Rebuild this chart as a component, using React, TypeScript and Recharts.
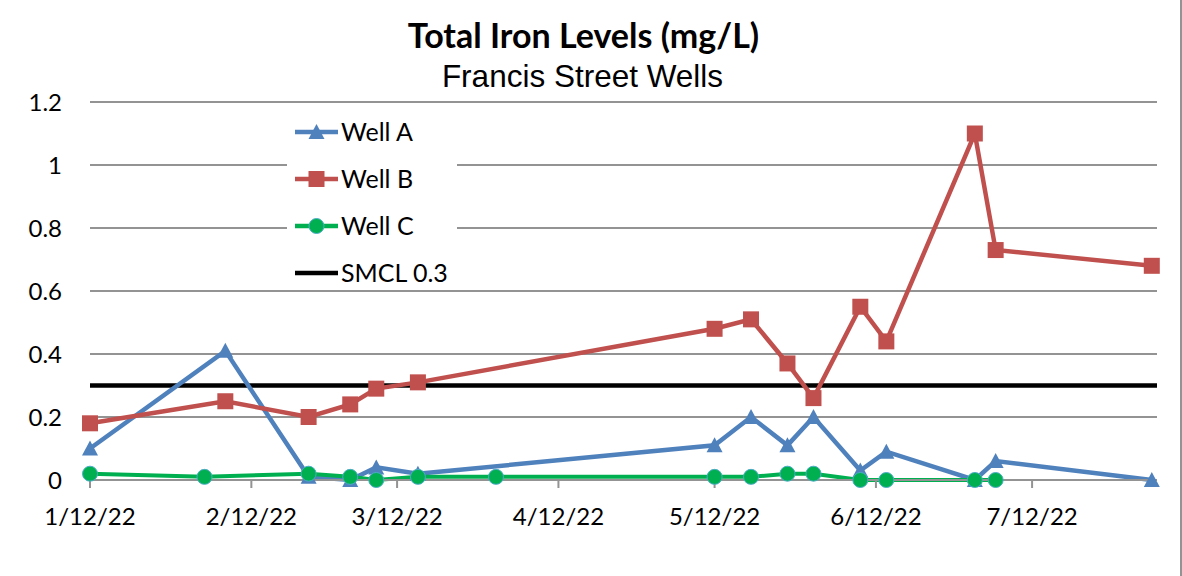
import { LineChart, Line, XAxis, YAxis, CartesianGrid, ReferenceLine, Legend } from 'recharts'

// sampling dates (Wells A and B share a schedule, Well C differs a little)
const datesAB = [
  '2022-01-12', '2022-02-07', '2022-02-23', '2022-03-03', '2022-03-08', '2022-03-16',
  '2022-05-12', '2022-05-19', '2022-05-26', '2022-05-31', '2022-06-09', '2022-06-14',
  '2022-07-01', '2022-07-05', '2022-08-04',
]
const wellA = [0.1, 0.41, 0.01, 0, 0.04, 0.02, 0.11, 0.2, 0.11, 0.2, 0.03, 0.09, 0, 0.06, 0]
const wellB = [0.18, 0.25, 0.2, 0.24, 0.29, 0.31, 0.48, 0.51, 0.37, 0.26, 0.55, 0.44, 1.1, 0.73, 0.68]

const datesC = [
  '2022-01-12', '2022-02-03', '2022-02-23', '2022-03-03', '2022-03-08', '2022-03-16',
  '2022-03-31', '2022-05-12', '2022-05-19', '2022-05-26', '2022-05-31', '2022-06-09',
  '2022-06-14', '2022-07-01', '2022-07-05',
]
const wellC = [0.02, 0.01, 0.02, 0.01, 0, 0.01, 0.01, 0.01, 0.01, 0.02, 0.02, 0, 0, 0, 0]

const smcl = 0.3

const xTickDates = ['2022-01-12', '2022-02-12', '2022-03-12', '2022-04-12', '2022-05-12', '2022-06-12', '2022-07-12']
const xDomainDates = ['2022-01-12', '2022-08-05']
const yTicks = [0, 0.2, 0.4, 0.6, 0.8, 1, 1.2]

const BLUE = '#4F81BD'
const RED = '#C0504D'
const GREEN = '#00B050'
const GRID = '#939393'
const FONT = 'Lato, "Open Sans", sans-serif'

const toTime = (s: string) => Date.parse(s + 'T00:00:00Z')
const fmtDate = (t: number) => {
  const d = new Date(t)
  return `${d.getUTCMonth() + 1}/${d.getUTCDate()}/${String(d.getUTCFullYear()).slice(2)}`
}

const dataA = datesAB.map((d, i) => ({ t: toTime(d), v: wellA[i] }))
const dataB = datesAB.map((d, i) => ({ t: toTime(d), v: wellB[i] }))
const dataC = datesC.map((d, i) => ({ t: toTime(d), v: wellC[i] }))

const triangle = (cx: number, cy: number, key?: any) => (
  <path key={key} d={`M${cx},${cy - 8} L${cx + 8},${cy + 7} L${cx - 8},${cy + 7} Z`} fill={BLUE} />
)
const square = (cx: number, cy: number, key?: any) => (
  <rect key={key} x={cx - 8} y={cy - 8} width={16} height={16} fill={RED} />
)
const circle = (cx: number, cy: number, key?: any) => (
  <circle key={key} cx={cx} cy={cy} r={7.5} fill={GREEN} stroke="#4BACC6" strokeWidth={1} />
)

const dotOf = (shape: (cx: number, cy: number, key?: any) => any) => (p: any) => {
  if (p.cx == null || p.cy == null) return <g key={p.index} />
  return shape(p.cx, p.cy, p.index)
}

const legendItems = [
  { name: 'Well A', color: BLUE, marker: triangle },
  { name: 'Well B', color: RED, marker: square },
  { name: 'Well C', color: GREEN, marker: circle },
  { name: 'SMCL 0.3', color: '#000000', marker: null },
]

function LegendBox() {
  return (
    <div style={{ background: '#fff', width: 170, height: 182, paddingTop: 2, boxSizing: 'border-box' }}>
      {legendItems.map((it) => (
        <div key={it.name} style={{ display: 'flex', alignItems: 'center', height: 47 }}>
          <svg width={54} height={20} style={{ flex: 'none' }}>
            <line x1={8} y1={10} x2={51} y2={10} stroke={it.color} strokeWidth={4.5} />
            {it.marker ? it.marker(29.5, 10) : null}
          </svg>
          <span style={{ fontFamily: FONT, fontSize: 25, color: '#000', lineHeight: '25px' }}>{it.name}</span>
        </div>
      ))}
    </div>
  )
}

export default function App() {
  return (
    <div
      style={{
        position: 'absolute',
        left: 0,
        top: 0,
        width: 1182,
        height: 576,
        background: '#fff',
        borderRight: `2px solid ${GRID}`,
        boxSizing: 'border-box',
      }}
    >
      <div
        style={{
          position: 'absolute',
          top: 12,
          left: 0,
          width: 1167,
          textAlign: 'center',
          fontFamily: FONT,
          fontWeight: 700,
          fontSize: 34,
          lineHeight: '46px',
          color: '#000',
        }}
      >
        Total Iron Levels (mg/L)
      </div>
      <div
        style={{
          position: 'absolute',
          top: 56,
          left: 0,
          width: 1165,
          textAlign: 'center',
          fontFamily: '"Liberation Sans", Arial, sans-serif',
          fontSize: 31.5,
          lineHeight: '40px',
          color: '#000',
        }}
      >
        Francis Street Wells
      </div>
      <LineChart width={1182} height={576} margin={{ top: 102, right: 25, bottom: 0, left: 0 }}>
        <CartesianGrid vertical={false} stroke={GRID} strokeWidth={2} />
        <XAxis
          type="number"
          dataKey="t"
          domain={xDomainDates.map(toTime)}
          ticks={xTickDates.map(toTime)}
          tickFormatter={fmtDate}
          allowDuplicatedCategory={false}
          height={96}
          stroke={GRID}
          strokeWidth={2}
          tickSize={8}
          tickMargin={20}
          tick={{ fill: '#000', fontSize: 24, fontFamily: FONT }}
        />
        <YAxis
          type="number"
          domain={[0, 1.2]}
          ticks={yTicks}
          tickFormatter={(v: number) => String(v)}
          width={90}
          axisLine={false}
          tickLine={false}
          tickSize={0}
          tickMargin={28}
          tick={{ fill: '#000', fontSize: 24, fontFamily: FONT }}
        />
        <ReferenceLine y={smcl} stroke="#000" strokeWidth={4.5} />
        <Legend
          layout="vertical"
          align="center"
          verticalAlign="middle"
          wrapperStyle={{ left: 287, top: 106, width: 170 }}
          content={() => <LegendBox />}
        />
        <Line
          data={dataA}
          dataKey="v"
          name="Well A"
          stroke={BLUE}
          strokeWidth={4.5}
          dot={dotOf(triangle)}
          activeDot={false}
          isAnimationActive={false}
        />
        <Line
          data={dataB}
          dataKey="v"
          name="Well B"
          stroke={RED}
          strokeWidth={4.5}
          dot={dotOf(square)}
          activeDot={false}
          isAnimationActive={false}
        />
        <Line
          data={dataC}
          dataKey="v"
          name="Well C"
          stroke={GREEN}
          strokeWidth={4}
          dot={dotOf(circle)}
          activeDot={false}
          isAnimationActive={false}
        />
      </LineChart>
    </div>
  )
}
